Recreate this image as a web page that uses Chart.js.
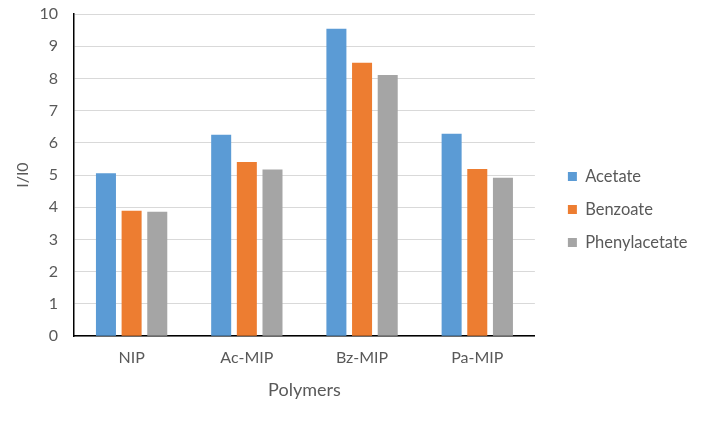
<!DOCTYPE html>
<html>
<head>
<meta charset="utf-8">
<script src="https://cdn.jsdelivr.net/npm/chart.js@4.4.1/dist/chart.umd.min.js"></script>
<style>
  html, body { margin: 0; padding: 0; background: #ffffff; }
  #wrap { width: 708px; height: 428px; }
</style>
</head>
<body>
<div id="wrap"><canvas id="c" width="708" height="428"></canvas></div>
<script>
const categories = ['NIP', 'Ac-MIP', 'Bz-MIP', 'Pa-MIP'];
const acetate = [5.06, 6.25, 9.54, 6.28];
const benzoate = [3.89, 5.41, 8.49, 5.19];
const phenylacetate = [3.86, 5.17, 8.11, 4.92];
const yTicks = [0, 1, 2, 3, 4, 5, 6, 7, 8, 9, 10];

const FONT = 'Lato, "Open Sans", sans-serif';
const TXT = '#595959';
const LEGEND_GAP = 16.5;
const LEGEND_DROP = 2;

// Adds empty space between the plot area and the legend on its left side.
const legendGap = {
  id: 'legendGap',
  afterInit(chart) {
    const lg = chart.legend;
    if (!lg || lg._gapPatched) return;
    const fit0 = lg.fit;
    lg.fit = function () { fit0.apply(this, arguments); this.width += LEGEND_GAP; };
    const draw0 = lg.draw;
    lg.draw = function () {
      const ctx = this.ctx;
      ctx.save();
      ctx.translate(LEGEND_GAP, LEGEND_DROP);
      draw0.apply(this, arguments);
      ctx.restore();
    };
    lg._gapPatched = true;
  }
};

function draw() {
  new Chart(document.getElementById('c'), {
    type: 'bar',
    data: {
      labels: categories,
      datasets: [
        { label: 'Acetate', data: acetate, backgroundColor: '#5B9BD5' },
        { label: 'Benzoate', data: benzoate, backgroundColor: '#ED7D31' },
        { label: 'Phenylacetate', data: phenylacetate, backgroundColor: '#A5A5A5' }
      ]
    },
    plugins: [legendGap],
    options: {
      responsive: false,
      animation: false,
      devicePixelRatio: 1,
      categoryPercentage: 0.668,
      barPercentage: 0.78,
      layout: { padding: { top: 14, bottom: 27, left: 0, right: 10.5 } },
      plugins: {
        legend: {
          position: 'right',
          labels: {
            boxWidth: 9,
            boxHeight: 9,
            padding: 16.5,
            color: TXT,
            font: { family: FONT, size: 16.5 }
          }
        },
        tooltip: { enabled: false }
      },
      scales: {
        x: {
          grid: { display: false, drawTicks: false },
          border: { display: true, color: '#000000', width: 1.5 },
          ticks: { color: TXT, padding: 12, font: { family: FONT, size: 16 } },
          title: {
            display: true, text: 'Polymers', color: TXT,
            font: { family: FONT, size: 18 },
            padding: { top: 0, bottom: 0 }
          }
        },
        y: {
          min: 0, max: 10,
          afterBuildTicks: (s) => { s.ticks = yTicks.map(v => ({ value: v })); },
          afterFit: (s) => { s.width = 74; s.paddingTop = 0; s.paddingBottom = 0; },
          grid: { color: '#d9d9d9', lineWidth: 1, drawTicks: false },
          border: { display: true, color: '#000000', width: 1.5 },
          ticks: { color: TXT, padding: 16, font: { family: FONT, size: 16 } },
          title: {
            display: true, text: 'I/I0', color: TXT,
            font: { family: FONT, size: 16 },
            padding: { top: 13.4, bottom: 0 }
          }
        }
      }
    }
  });
}

Promise.all([
  document.fonts.load('16px Lato'),
  document.fonts.load('16.5px Lato'),
  document.fonts.load('18px Lato')
]).then(draw, draw);
</script>
</body>
</html>
